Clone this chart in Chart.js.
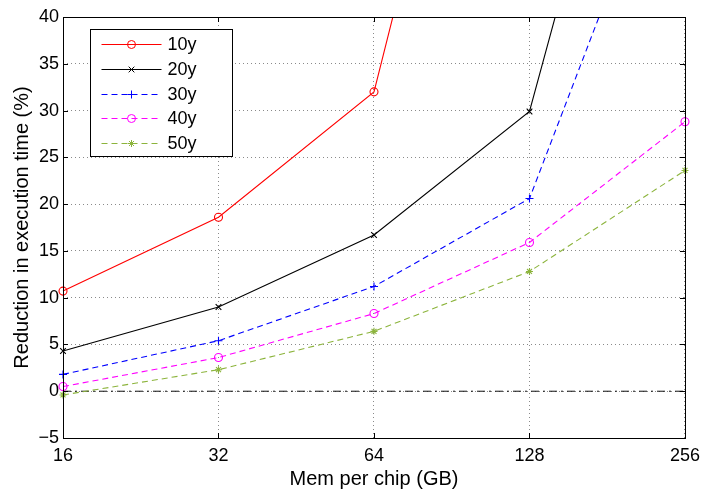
<!DOCTYPE html>
<html>
<head>
<meta charset="utf-8">
<script src="https://cdn.jsdelivr.net/npm/chart.js@4"></script>
<style>
  html, body { margin: 0; padding: 0; background: #fff; }
  #wrap { width: 707px; height: 491px; }
</style>
</head>
<body>
<div id="wrap"><canvas id="memChart" width="707" height="491"></canvas></div>
<script>
// Mem per chip (GB) categories, equally spaced (log2 axis)
const memLabels = ['16', '32', '64', '128', '256'];

// Reduction in execution time (%)
// (points above 40 are off the chart; estimated from the line slope)
const red10y = [10.7, 18.6, 32.0, 98, null];
const red20y = [4.3, 9.0, 16.7, 29.9, 91];
const red30y = [1.8, 5.4, 11.2, 20.6, 64];
const red40y = [0.5, 3.6, 8.3, 15.9, 28.8];
const red50y = [-0.4, 2.3, 6.4, 12.8, 23.6];
const zeroRef = [0, 0, 0, 0, 0];

const seriesNames = ['10y', '20y', '30y', '40y', '50y'];
const yMin = -5, yMax = 40, yStep = 5;

const FONT = "'Liberation Sans', Arial, Helvetica, sans-serif";

function makeSeries(label, data, color, style, radius, dash) {
  return {
    label: label,
    data: data,
    borderColor: color,
    backgroundColor: 'rgba(0,0,0,0)',
    borderWidth: 1.1,
    borderDash: dash,
    pointStyle: style,
    pointRadius: radius,
    pointBorderColor: color,
    pointBackgroundColor: 'rgba(0,0,0,0)',
    pointBorderWidth: 1.1,
    tension: 0,
    fill: false
  };
}

const datasets = [
  makeSeries(seriesNames[0], red10y, '#ff0000', 'circle', 4, []),
  makeSeries(seriesNames[1], red20y, '#000000', 'crossRot', 4, []),
  makeSeries(seriesNames[2], red30y, '#0000ff', 'cross', 4, [6, 4]),
  makeSeries(seriesNames[3], red40y, '#ff00ff', 'circle', 4, [6, 4]),
  makeSeries(seriesNames[4], red50y, '#8cb43c', 'star', 3.5, [6, 4]),
  {
    label: '',
    data: zeroRef,
    borderColor: '#111',
    borderWidth: 1,
    borderDash: [8, 4, 2, 4],
    pointRadius: 0,
    fill: false,
    isRef: true
  }
];

// MATLAB-like box with inward ticks, plus the boxed legend
const boxPlugin = {
  id: 'matlabBox',
  afterDraw(chart) {
    const ctx = chart.ctx;
    const a = chart.chartArea;
    const xs = chart.scales.x, ys = chart.scales.y;
    ctx.save();
    ctx.strokeStyle = '#000';
    ctx.lineWidth = 1;
    ctx.setLineDash([]);
    ctx.strokeRect(Math.round(a.left) + 0.5, Math.round(a.top) + 0.5,
      Math.round(a.right - a.left), Math.round(a.bottom - a.top));
    const tl = 5;
    ctx.beginPath();
    xs.ticks.forEach((t, i) => {
      const px = Math.round(xs.getPixelForTick(i)) + 0.5;
      ctx.moveTo(px, a.bottom); ctx.lineTo(px, a.bottom - tl);
      ctx.moveTo(px, a.top); ctx.lineTo(px, a.top + tl);
    });
    ys.ticks.forEach((t, i) => {
      const py = Math.round(ys.getPixelForTick(i)) + 0.5;
      ctx.moveTo(a.left, py); ctx.lineTo(a.left + tl, py);
      ctx.moveTo(a.right, py); ctx.lineTo(a.right - tl, py);
    });
    ctx.stroke();

    // legend
    const lx = Math.round(a.left + 27) + 0.5;
    const ly = Math.round(a.top + 12) + 0.5;
    const lw = 142, lh = 127;
    ctx.fillStyle = '#fff';
    ctx.fillRect(lx, ly, lw, lh);
    ctx.strokeStyle = '#000';
    ctx.lineWidth = 1;
    ctx.strokeRect(lx, ly, lw, lh);
    ctx.font = '18px ' + FONT;
    ctx.textBaseline = 'middle';
    ctx.textAlign = 'left';
    chart.data.datasets.forEach((ds, i) => {
      if (ds.isRef) return;
      const ry = Math.round(ly + 14.5 + i * 24.8);
      ctx.save();
      ctx.strokeStyle = ds.borderColor;
      ctx.lineWidth = 1;
      ctx.setLineDash(ds.borderDash || []);
      ctx.beginPath();
      ctx.moveTo(lx + 11, ry + 0.5);
      ctx.lineTo(lx + 71, ry + 0.5);
      ctx.stroke();
      ctx.setLineDash([]);
      ctx.fillStyle = 'rgba(0,0,0,0)';
      Chart.helpers.drawPoint(ctx, {
        pointStyle: ds.pointStyle, radius: ds.pointRadius, rotation: 0, borderWidth: 1
      }, lx + 41, ry + 0.5);
      ctx.restore();
      ctx.fillStyle = '#000';
      ctx.fillText(ds.label, lx + 77, ry + 1);
    });
    ctx.restore();
  }
};

const ctx = document.getElementById('memChart').getContext('2d');
const memChart = new Chart(ctx, {
  type: 'line',
  data: { labels: memLabels, datasets: datasets },
  plugins: [boxPlugin],
  options: {
    responsive: false,
    animation: false,
    layout: { padding: { top: 17, right: 19, left: 0, bottom: 0 } },
    plugins: {
      legend: { display: false },
      tooltip: { enabled: false }
    },
    scales: {
      x: {
        type: 'category',
        offset: false,
        grid: {
          color: '#8a8a8a',
          lineWidth: 1,
          drawTicks: false,
          borderDash: [1, 3]
        },
        border: { display: false, dash: [1, 3] },
        ticks: {
          color: '#000',
          font: { size: 18, family: FONT },
          padding: 7,
          maxRotation: 0,
          autoSkip: false
        },
        title: {
          display: true,
          text: 'Mem per chip (GB)',
          color: '#000',
          font: { size: 20, family: FONT },
          padding: { top: 0, bottom: 0 }
        },
        afterFit(scale) { scale.height = 53; }
      },
      y: {
        min: yMin,
        max: yMax,
        grid: {
          color: '#8a8a8a',
          lineWidth: 1,
          drawTicks: false,
          borderDash: [1, 3]
        },
        border: { display: false, dash: [1, 3] },
        ticks: {
          stepSize: yStep,
          color: '#000',
          font: { size: 18, family: FONT },
          padding: 4,
          callback: function (v) {
            return v < 0 ? '\u2212' + Math.abs(v) : String(v);
          }
        },
        title: {
          display: true,
          text: 'Reduction in execution time (%)',
          color: '#000',
          font: { size: 20, family: FONT },
          padding: { top: 10, bottom: 0 }
        },
        afterFit(scale) { scale.width = 63; }
      }
    }
  }
});
</script>
</body>
</html>
